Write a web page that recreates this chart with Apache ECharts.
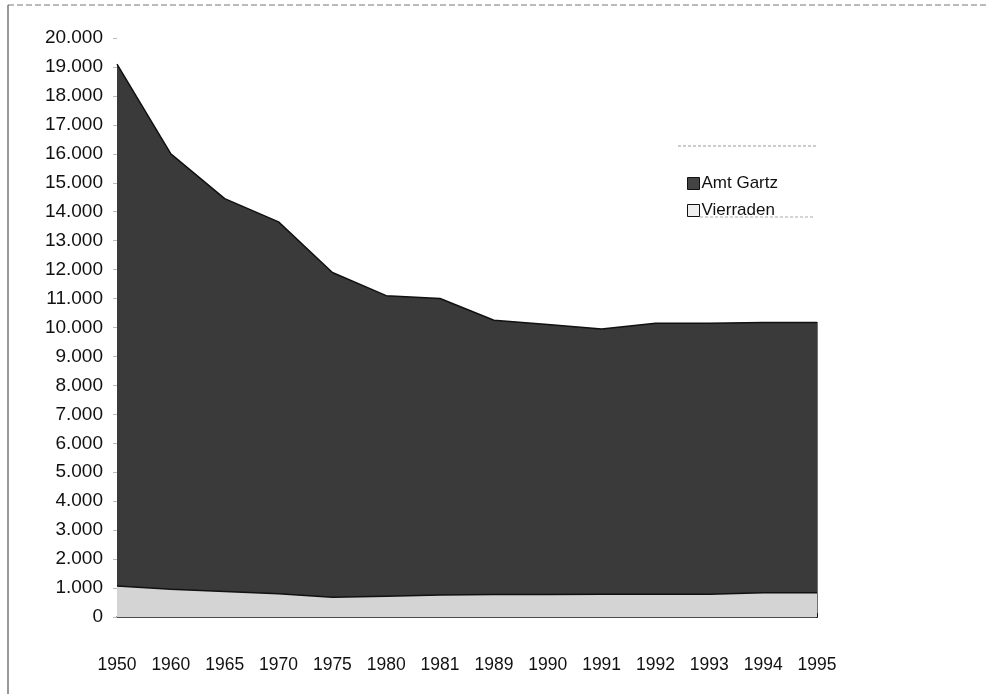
<!DOCTYPE html>
<html><head><meta charset="utf-8">
<script src="https://cdn.jsdelivr.net/npm/echarts@6/dist/echarts.min.js"></script>
<style>html,body{margin:0;padding:0;background:#fff}#c{width:986px;height:694px}</style>
</head><body><div id="c"></div>
<script>
const years = ['1950','1960','1965','1970','1975','1980','1981','1989','1990','1991','1992','1993','1994','1995'];
const amtGartz = [19100,16000,14450,13650,11900,11100,11000,10250,10100,9950,10150,10150,10170,10170];
const vierraden = [1070,960,880,800,680,720,760,780,780,790,790,790,840,840];
const yTicks = {min:0, max:20000, interval:1000};
const fmt = v => v === 0 ? '0' : (v/1000).toFixed(3);

const chart = echarts.init(document.getElementById('c'));
chart.setOption({
  animation:false,
  backgroundColor:'#fff',
  textStyle:{fontFamily:'Liberation Sans, Arial, sans-serif'},
  grid:{left:117,right:169,top:38,bottom:77},
  legend:{
    orient:'vertical', left:682, top:170, itemWidth:12, itemHeight:12, itemGap:10,
    icon:'rect',
    textStyle:{fontSize:17,color:'#111',fontFamily:'Liberation Sans, Arial, sans-serif', padding:[0,0,0,-3]},
    data:[
      {name:'Amt Gartz', itemStyle:{color:'#444',borderColor:'#111',borderWidth:1}},
      {name:'Vierraden', itemStyle:{color:'#eee',borderColor:'#111',borderWidth:1}}
    ]
  },
  xAxis:{
    type:'category', data:years, boundaryGap:false,
    axisLine:{lineStyle:{color:'#111',width:1.5}},
    axisTick:{inside:true,length:4,lineStyle:{color:'#111'}},
    axisLabel:{margin:39,fontSize:17.5,color:'#111',interval:0}
  },
  yAxis:{
    type:'value', min:yTicks.min, max:yTicks.max, interval:yTicks.interval,
    axisLine:{show:false},
    axisTick:{show:true,length:4,lineStyle:{color:'#bbb'}},
    splitLine:{show:false},
    axisLabel:{margin:14,fontSize:19,color:'#111',formatter:fmt}
  },
  series:[
    {name:'Amt Gartz', type:'line', data:amtGartz, symbol:'none',
     lineStyle:{color:'#111',width:1.5},
     itemStyle:{color:'#444'},
     areaStyle:{color:'#3a3a3a',opacity:1}, z:2},
    {name:'Vierraden', type:'line', data:vierraden, symbol:'none',
     lineStyle:{color:'#111',width:1.5},
     itemStyle:{color:'#ddd'},
     areaStyle:{color:'#d4d4d4',opacity:1}, z:3}
  ],
  graphic:[
    {type:'line', shape:{x1:8,y1:5,x2:986,y2:5}, style:{stroke:'#777',lineWidth:1,lineDash:[6,3]}},
    {type:'line', shape:{x1:8,y1:5,x2:8,y2:694}, style:{stroke:'#555',lineWidth:1.2}},
    {type:'line', shape:{x1:678,y1:146,x2:818,y2:146}, style:{stroke:'#999',lineWidth:1,lineDash:[3,2]}},
    {type:'line', shape:{x1:700,y1:217,x2:815,y2:217}, style:{stroke:'#aaa',lineWidth:1,lineDash:[3,2]}},
    {type:'line', shape:{x1:817,y1:322,x2:817,y2:618}, style:{stroke:'#111',lineWidth:1.2}}
  ]
});
</script></body></html>
